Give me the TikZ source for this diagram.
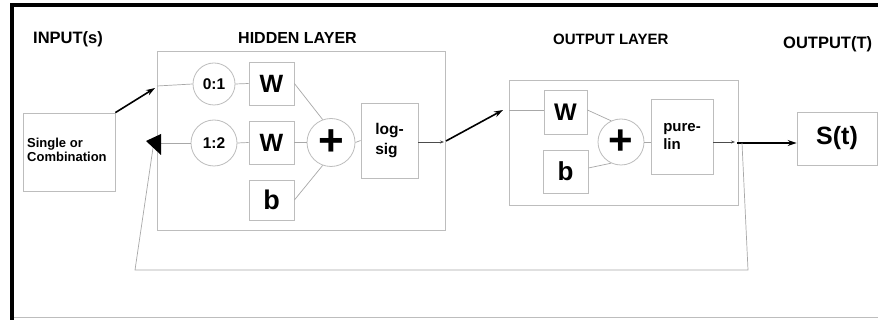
\documentclass[tikz,border=0pt]{standalone}
\usepackage{fontspec}
\setmainfont{Liberation Sans}
\usetikzlibrary{arrows.meta}
\definecolor{boxgray}{HTML}{BDBDBD}
\definecolor{linegray}{HTML}{A8A8A8}
\newcommand{\fsz}[1]{\fontsize{#1}{#1}\selectfont\bfseries}
\tikzset{
  box/.style={draw=boxgray, line width=0.8pt, inner sep=0pt, rectangle},
  circ/.style={draw=boxgray, line width=0.8pt, inner sep=0pt, circle},
  thin/.style={draw=linegray, line width=0.7pt},
  heavy/.style={draw=black, line width=1.6pt, -{Stealth[length=9pt,width=6pt]}},
  small/.style={draw=black!70, line width=0.7pt, -{Stealth[length=4pt,width=3pt]}},
  head/.style={anchor=base west, inner sep=0pt},
}
\begin{document}
\begin{tikzpicture}[x=1pt,y=-1pt]
\useasboundingbox (0,0) rectangle (878,320);
\fill[white] (0,0) rectangle (878,320);
% frame
\draw[line width=3.5pt] (12,320) -- (12,5) -- (878,5);
\draw[boxgray, line width=0.6pt] (14,317) -- (878,317);

% headers
\node[head, font=\fsz{16.5}] (hin) at (33,44) {INPUT(s)};
\node[head, font=\fsz{16}] (hhid) at (238,44) {HIDDEN LAYER};
\node[head, font=\fsz{15}] (hout) at (553,45) {OUTPUT LAYER};
\node[head, font=\fsz{16.5}] (hot) at (783,49) {OUTPUT(T)};

% input box
\node[box, minimum width=92pt, minimum height=78pt] (in) at (69,152) {};
\node[anchor=west, inner sep=0pt, align=left, font=\fsz{13}] (intext) at (27,150) {Single or\\[1.5pt]Combination};

% hidden layer
\node[box, minimum width=288pt, minimum height=179pt] (hid) at (301,140.5) {};
\node[circ, minimum size=42pt, font=\fsz{15.5}] (c01) at (214,84) {0:1};
\node[circ, minimum size=46pt, font=\fsz{15.5}] (c12) at (214,143) {1:2};
\node[box, minimum width=45pt, minimum height=43pt, font=\fsz{25}] (w1) at (271.5,83.5) {W};
\node[box, minimum width=45pt, minimum height=43pt, font=\fsz{25}] (w2) at (271.5,142.5) {W};
\node[box, minimum width=45pt, minimum height=40pt, font=\fsz{27}] (b1) at (271.5,200) {b};
\node[circ, minimum size=48pt, font=\fsz{44}] (p1) at (331,142.5) {+};
\node[box, minimum width=57pt, minimum height=75pt, align=left, font=\fsz{15.5}] (ls) at (389.5,140.5) {log-\\[4pt]sig};

% output layer
\node[box, minimum width=229pt, minimum height=125pt] (obox) at (623.5,142.5) {};
\node[box, minimum width=43pt, minimum height=44pt, font=\fsz{24}] (w3) at (565.5,112) {W};
\node[box, minimum width=45pt, minimum height=43pt, font=\fsz{26}] (b2) at (565.5,171.5) {b};
\node[circ, minimum size=46pt, font=\fsz{42}] (p2) at (621,142) {+};
\node[box, minimum width=62pt, minimum height=75pt, align=left, font=\fsz{15}] (pl) at (682,136.5) {pure-\\[3pt]lin};

% output
\node[box, minimum width=80pt, minimum height=53pt, font=\fsz{25}] (st) at (837,138.5) {S(t)};

% coordinates
\coordinate (hidin) at (157,86);
\coordinate (tri) at (161,143);
\coordinate (lsout) at (444,142);
\coordinate (a1s) at (446,141);
\coordinate (a1e) at (503,110);
\coordinate (ain) at (509,110);
\coordinate (plout) at (735,142);
\coordinate (a2s) at (737,143);
\coordinate (fb) at (742,143);
\coordinate (fb1) at (748,270);
\coordinate (fb2) at (135,270);
\coordinate (fb3) at (153,148);
\coordinate (inarr) at (155,88);

% hidden layer connections
\draw[thin] (hidin) -- (c01.west);
\draw[thin] (c01.east) -- (w1.west);
\draw[thin] (c12.east) -- (w2.west);
\draw[thin] (c12.west) -- (tri);
\draw[thin] (w1.east) -- (p1.110);
\draw[thin] (w2.east) -- (p1.west);
\draw[thin] (b1.east) -- (p1.250);
\draw[thin] (p1.east) -- (ls.west);
\draw[small] (ls.east |- lsout) -- (lsout);

% output layer connections
\draw[thin] (ain) -- (w3.west |- ain);
\draw[thin] (w3.east |- ain) -- (p2.115);
\draw[thin] (b2.east |- 0,168) -- (p2.245);
\draw[thin] (p2.east) -- (pl.west |- p2.east);
\draw[small] (pl.east |- plout) -- (plout);

% heavy arrows
\draw[heavy] (in.north east) -- (inarr);
\draw[heavy] (a1s) -- (a1e);
\draw[heavy] (a2s) -- (st.west |- a2s);

% feedback
\draw[thin] (fb) -- (fb1) -- (fb2) -- (fb3);
\fill[black] (146,141) -- (161,134) -- (161,155) -- cycle;
\end{tikzpicture}
\end{document}
